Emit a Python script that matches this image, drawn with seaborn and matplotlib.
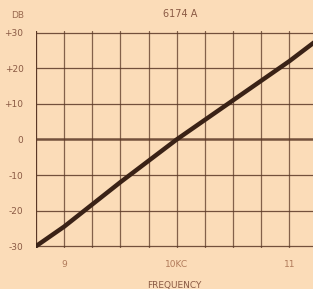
import numpy as np
import pandas as pd
import matplotlib.pyplot as plt
import seaborn as sns

# response curve
freq = [8.75, 9.0, 9.5, 10.0, 10.5, 11.0, 11.25]
db = [-30, -24.5, -12, 0, 11, 22, 28]
df = pd.DataFrame({'freq': freq, 'db': db})

ytick_vals = [30, 20, 10, 0, -10, -20, -30]
ytick_labels = ['+30', '+20', '+10', '0', '-10', '-20', '-30']
xtick_vals = [9, 10, 11]
xtick_labels = ['9', '10KC', '11']

paper = '#fbdcb8'
ink = '#5b3826'

sns.set_style('white')
plt.rcParams['font.family'] = ['DejaVu Sans']

fig = plt.figure(figsize=(3.13, 2.89), dpi=100, facecolor=paper)
ax = fig.add_axes([0.115, 0.142, 0.885, 0.751])
ax.set_facecolor(paper)

# grid every 0.25 kc and 10 db
for xv in np.arange(8.75, 11.3, 0.25):
    ax.axvline(xv, color=ink, lw=0.9, alpha=0.75, zorder=1)
for yv in ytick_vals:
    ax.axhline(yv, color=ink, lw=1.8 if yv == 0 else 0.9, alpha=0.85, zorder=1)

sns.lineplot(data=df, x='freq', y='db', ax=ax, color='#3a2216', lw=3.2, zorder=3)

ax.set_xlim(8.75, 11.21)
ax.set_ylim(-30.5, 30.5)
for s in ax.spines.values():
    s.set_visible(False)
ax.axvline(8.75, color=ink, lw=1.5, zorder=2)

ax.set_xticks(xtick_vals)
ax.set_xticklabels(xtick_labels)
ax.set_yticks(ytick_vals)
ax.set_yticklabels(ytick_labels)
ax.tick_params(length=0, labelsize=6.5, colors='#b07a5a', pad=9)
for lab in ax.get_yticklabels():
    lab.set_color('#8a5a44')
ax.set_xlabel('FREQUENCY', fontsize=6.5, color='#8a5a44', labelpad=8)
ax.set_ylabel('')

fig.text(0.055, 0.945, 'DB', fontsize=6.5, color='#9a6a50', ha='center', va='center')
fig.text(0.575, 0.952, '6174 A', fontsize=7, color='#8a5a44', ha='center', va='center')

fig.savefig('out.png', dpi=100, facecolor=paper)
